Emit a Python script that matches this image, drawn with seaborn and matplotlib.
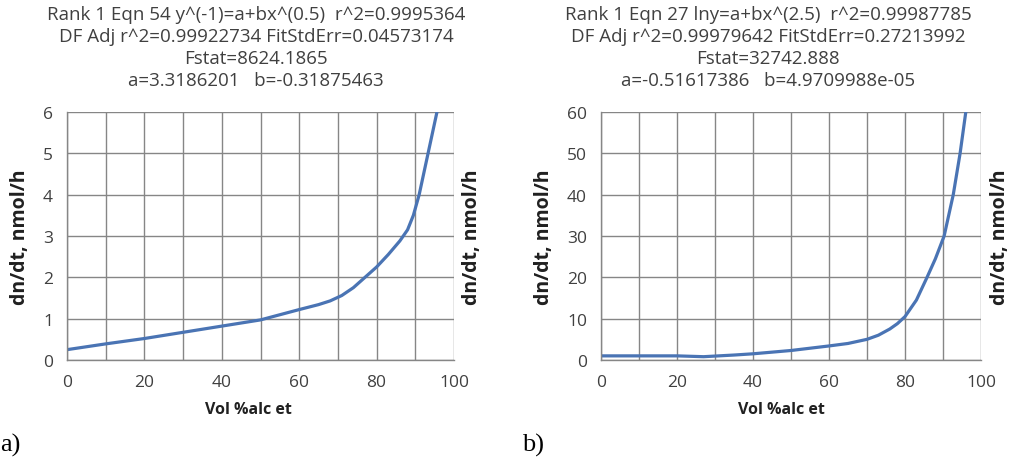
import matplotlib
matplotlib.use("Agg")
import matplotlib.pyplot as plt
import seaborn as sns
import pandas as pd
from matplotlib.ticker import MultipleLocator

# ---- data ----
x_a = [0, 10, 20, 30, 40, 50, 60, 65, 68, 71, 74, 77, 80, 83, 86, 88, 89.5, 91, 93.3, 95.6]
y_a = [0.25, 0.39, 0.52, 0.67, 0.82, 0.97, 1.22, 1.34, 1.43, 1.56, 1.75, 2.0, 2.25, 2.55, 2.88, 3.15, 3.5, 4.0, 5.0, 6.0]

x_b = [0, 10, 20, 27, 35, 40, 50, 60, 65, 70, 73, 76, 78, 80, 83, 85.8, 88, 90.3, 92.7, 94.5, 96]
y_b = [1.0, 1.0, 1.0, 0.8, 1.2, 1.5, 2.3, 3.4, 4.0, 5.0, 6.0, 7.5, 8.8, 10.5, 14.5, 20, 24.5, 30, 40, 50, 60]

titles_a = ["Rank 1 Eqn 54 y^(-1)=a+bx^(0.5)  r^2=0.9995364",
            "DF Adj r^2=0.99922734 FitStdErr=0.04573174",
            "Fstat=8624.1865",
            "a=3.3186201   b=-0.31875463"]
titles_b = ["Rank 1 Eqn 27 lny=a+bx^(2.5)  r^2=0.99987785",
            "DF Adj r^2=0.99979642 FitStdErr=0.27213992",
            "Fstat=32742.888",
            "a=-0.51617386   b=4.9709988e-05"]

xlabel = "Vol %alc et"
ylabel = "dn/dt, nmol/h"
panel_labels = ["a)", "b)"]
yticks_a = [0, 1, 2, 3, 4, 5, 6]
yticks_b = [0, 10, 20, 30, 40, 50, 60]
xticks = [0, 20, 40, 60, 80, 100]

sns.set_style("white")
plt.rcParams['font.family'] = ['Open Sans', 'DejaVu Sans']

W, H = 1013, 460
fig = plt.figure(figsize=(W / 100, H / 100), dpi=100)

line_color = "#4a74b4"
grid_color = "#868686"
text_color = "#404040"

def px(x0, y0, x1, y1):
    return [x0 / W, 1 - y1 / H, (x1 - x0) / W, (y1 - y0) / H]

specs = [
    (px(67, 113, 454, 361), x_a, y_a, yticks_a, titles_a, 256, 472, 20, 248, panel_labels[0], 0),
    (px(601, 113, 981, 361), x_b, y_b, yticks_b, titles_b, 768, 1000, 544, 781, panel_labels[1], 522),
]

for rect, xs, ys, yt, titles, tcx, ylab_r, ylab_l, xlab_c, plabel, plx in specs:
    ax = fig.add_axes(rect)
    df = pd.DataFrame({"x": xs, "y": ys})
    sns.lineplot(data=df, x="x", y="y", ax=ax, color=line_color, linewidth=2.3,
                 sort=True, estimator=None)
    ax.set_xlim(0, 100)
    ax.set_ylim(yt[0], yt[-1])
    ax.set_xticks(xticks)
    ax.xaxis.set_minor_locator(MultipleLocator(10))
    ax.set_yticks(yt)
    ax.grid(True, which="both", axis="x", color=grid_color, linewidth=1.0)
    ax.grid(True, which="major", axis="y", color=grid_color, linewidth=1.0)
    ax.set_axisbelow(True)
    for s in ["top", "right"]:
        ax.spines[s].set_visible(False)
    for s in ["left", "bottom"]:
        ax.spines[s].set_color(grid_color)
        ax.spines[s].set_linewidth(1.0)
    ax.tick_params(axis="both", which="major", direction="out", length=5,
                   color=grid_color, labelsize=12.5, labelcolor=text_color, pad=5)
    ax.tick_params(axis="x", which="minor", length=0)
    ax.set_xlabel("")
    ax.set_ylabel("")
    # labels
    fig.text(ylab_l / W, 1 - 237 / H, ylabel, rotation=90, ha="center", va="center",
             fontsize=14, fontweight="bold", color="#202020")
    fig.text(ylab_r / W, 1 - 237 / H, ylabel, rotation=90, ha="center", va="center",
             fontsize=14, fontweight="bold", color="#202020")
    fig.text(xlab_c / W, 1 - 410 / H, xlabel, ha="center", va="center",
             fontsize=11.5, fontweight="bold", color="#202020")
    for i, t in enumerate(titles):
        fig.text(tcx / W, 1 - (15 + 22 * i) / H, t, ha="center", va="center",
                 fontsize=13.5, color=text_color)
    fig.text(plx / W, 1 - 445 / H, plabel, ha="left", va="center",
             fontsize=19, family=["Liberation Serif"], color="black")

fig.savefig("out.png", dpi=100)
